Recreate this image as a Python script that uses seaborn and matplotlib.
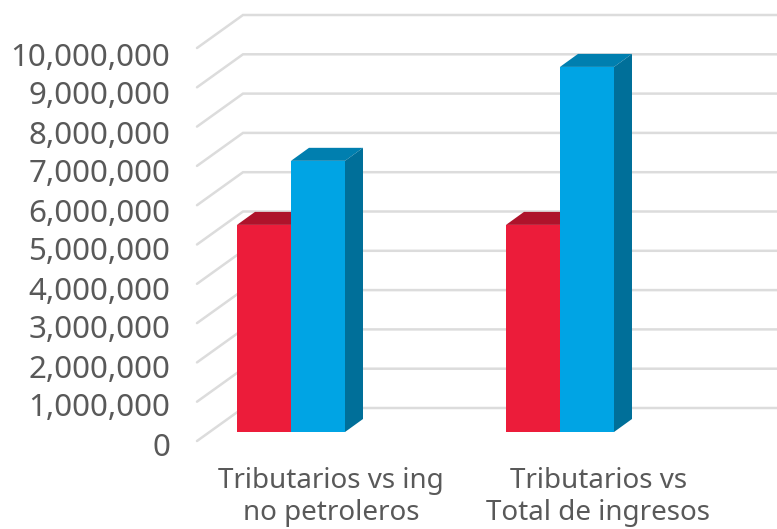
"""Clustered bars with a fake 3D look, built on a seaborn barplot."""

import matplotlib

matplotlib.use("Agg")
import matplotlib.pyplot as plt
import pandas as pd
import seaborn as sns
from matplotlib.colors import to_hex
from matplotlib.patches import Polygon

# --- Data ----------------------------------------------------------------- #
CATEGORIES = ["Tributarios vs ing\nno petroleros", "Tributarios vs\nTotal de ingresos"]
TRIBUTARIOS = [5270000, 5270000]
COMPARADO = [6900000, 9290000]
TICKS = list(range(0, 11000000, 1000000))

# --- Layout (pixels of the 777x529 figure) -------------------------------- #
W, H = 777, 529
PX_X = 1 / 269  # category units per pixel
PX_Y = 1e6 / 39.3  # value units per pixel
BAR_BASE = 432  # pixel row of value 0 on the front of the bars
CAT0_X = 291  # pixel column of the first category
AX_LEFT, AX_RIGHT, AX_TOP, AX_BOTTOM = 175, 777, 5, 445
LABEL_STEP = 39 / 39.3  # tick labels sit a little tighter than the grid

COLORS = ["#EC1C3A", "#00A4E4"]
TOPS = ["#AE132B", "#007FAF"]
SIDES = ["#9A1026", "#006F99"]
GRID = "#DCDCDC"
TEXT = "#595959"


def to_x(px):
    return (px - CAT0_X) * PX_X


def to_y(py):
    return (BAR_BASE - py) * PX_Y


sns.set_style("white")
plt.rcParams["font.family"] = ["Noto Sans", "DejaVu Sans"]

df = pd.DataFrame(
    {
        "categoria": CATEGORIES * 2,
        "serie": ["Tributarios"] * 2 + ["Comparado"] * 2,
        "valor": TRIBUTARIOS + COMPARADO,
    }
)

fig = plt.figure(figsize=(W / 100, H / 100), dpi=100)
ax = fig.add_axes(
    [AX_LEFT / W, 1 - AX_BOTTOM / H, (AX_RIGHT - AX_LEFT) / W, (AX_BOTTOM - AX_TOP) / H]
)

sns.barplot(
    data=df,
    x="categoria",
    y="valor",
    hue="serie",
    palette=COLORS,
    width=108 * PX_X,
    gap=0,
    saturation=1,
    legend=False,
    linewidth=0,
    ax=ax,
    zorder=3,
)

ax.set_xlim(to_x(AX_LEFT), to_x(AX_RIGHT))
ax.set_ylim(to_y(AX_BOTTOM), to_y(AX_TOP))

# --- Wall and floor grid -------------------------------------------------- #
for v in TICKS:
    front = v + to_y(441)
    wall = v + to_y(408)
    ax.plot(
        [to_x(197), to_x(243), to_x(777)],
        [front, wall, wall],
        color=GRID,
        lw=1.8,
        zorder=1,
        clip_on=False,
        solid_joinstyle="miter",
    )

# --- Depth faces of each bar ---------------------------------------------- #
dx, dy = 18 * PX_X, 13 * PX_Y
n = len(CATEGORIES)
for i, bar in enumerate(ax.patches):
    x0, w, h = bar.get_x(), bar.get_width(), bar.get_height()
    x1 = x0 + w
    s = i // n
    top = [(x0, h), (x0 + dx, h + dy), (x1 + dx, h + dy), (x1, h)]
    side = [(x1, 0), (x1 + dx, dy), (x1 + dx, h + dy), (x1, h)]
    ax.add_patch(Polygon(top, closed=True, fc=to_hex(TOPS[s]), ec="none", zorder=2))
    ax.add_patch(Polygon(side, closed=True, fc=to_hex(SIDES[s]), ec="none", zorder=2))

# --- Axes text ------------------------------------------------------------ #
ax.set_yticks([v * LABEL_STEP + to_y(444) for v in TICKS], [f"{v:,}" for v in TICKS])
ax.set_xticks([to_x(331), to_x(598.5)], CATEGORIES)
ax.tick_params(axis="y", length=0, pad=3.5, labelsize=22.5, labelcolor=TEXT)
ax.tick_params(axis="x", length=0, pad=16, labelsize=20, labelcolor=TEXT)
ax.set_xlabel("")
ax.set_ylabel("")
sns.despine(ax=ax, left=True, bottom=True)

fig.savefig("out.png", dpi=100)
plt.close(fig)
